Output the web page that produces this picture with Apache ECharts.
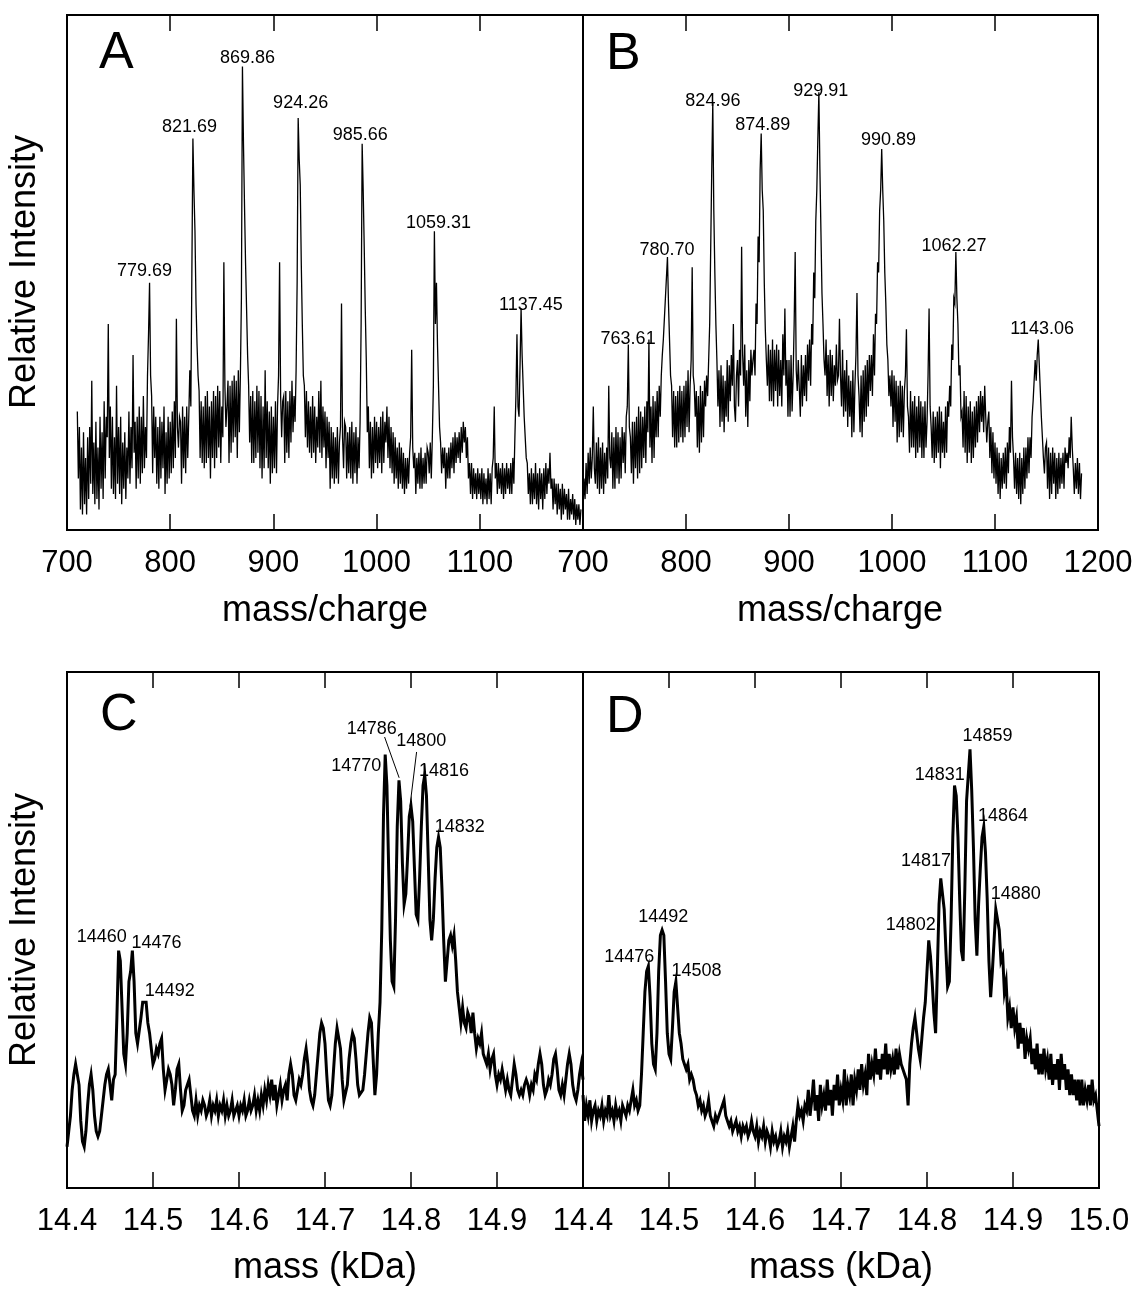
<!DOCTYPE html>
<html><head><meta charset="utf-8">
<script src="https://cdn.jsdelivr.net/npm/echarts@6/dist/echarts.min.js"></script>
<style>html,body{margin:0;padding:0;background:#fff}#c{width:1138px;height:1289px}</style>
</head><body><div id="c"></div>
<script>
// ---------- DATA ----------
// Panel A: m/z sampled every 1 unit starting at 710 (rows of 10)
const mzStartA = 710, mzStepA = 1;
const intensityA = [
 23,10,20,4,16,3,19,5,14,3,
 18,6,20,9,29,7,17,5,21,6,
 16,4,22,8,19,6,25,10,22,18,
 40,14,24,8,22,7,18,6,28,9,
 20,7,22,5,17,8,19,6,16,10,
 23,9,20,12,34,15,21,8,22,10,
 24,9,22,11,26,12,20,14,30,38,
 48,30,26,11,24,14,22,9,20,8,
 22,10,21,12,24,7,19,9,22,10,
 21,11,23,12,25,14,41,20,16,22,
 21,9,24,12,22,11,24,14,22,31,
 24,50,76,66,58,44,36,30,27,14,
 25,13,24,12,26,13,27,14,24,10,
 25,14,27,12,26,14,28,16,27,13,
 24,18,52,28,20,24,29,13,28,15,
 29,17,30,18,29,14,31,19,30,45,
 90,75,63,52,43,34,28,17,26,13,
 27,13,25,14,28,15,27,12,26,10,
 24,12,31,14,25,12,23,9,24,11,
 22,12,25,11,24,30,52,26,18,25,
 26,13,27,15,25,14,27,17,29,19,
 26,21,31,48,80,72,67,52,40,30,
 28,18,27,16,25,15,24,14,26,15,
 24,13,22,16,27,15,29,14,24,16,
 23,12,22,14,21,8,20,10,19,9,
 18,10,20,9,17,20,44,18,12,21,
 20,10,19,11,20,10,21,9,19,11,
 20,9,18,12,21,40,75,66,55,43,
 33,19,24,12,21,10,20,11,22,13,
 21,12,20,13,22,11,23,13,21,17,
 24,14,22,12,20,11,19,9,18,10,
 16,8,17,9,16,8,15,7,14,8,
 14,9,15,18,35,16,12,15,7,14,
 9,15,8,16,8,14,9,15,9,16,
 15,11,17,10,18,28,58,40,48,36,
 28,20,17,11,16,12,16,8,15,10,
 16,10,17,12,18,11,19,13,18,14,
 19,13,20,15,21,17,20,14,18,10,
 13,7,13,6,12,7,11,6,12,7,
 11,6,12,5,11,6,10,5,12,6,
 11,5,12,14,24,10,13,7,13,8,
 12,7,13,6,12,7,13,8,12,7,
 13,7,14,9,18,26,38,24,22,32,
 43,34,28,22,22,14,13,7,11,5,
 12,5,11,6,13,5,11,4,12,6,
 11,4,12,6,13,7,12,9,15,8,
 10,4,10,5,9,3,9,4,8,2,
 9,3,8,4,7,2,8,2,6,3,
 7,2,6,1,5,2,5,1,4
];
// Panel B: m/z sampled every 1 unit starting at 700 (rows of 10)
const mzStartB = 700, mzStepB = 1;
const intensityB = [
 4,10,6,13,7,15,9,16,10,14,
 24,12,9,17,8,18,7,16,8,17,
 7,15,9,16,10,28,14,12,19,8,
 18,8,20,10,19,9,18,10,20,13,
 19,11,22,24,36,20,18,11,21,9,
 21,12,22,10,24,11,23,12,22,14,
 24,13,25,19,37,16,24,13,26,14,
 25,18,27,18,28,22,30,34,37,41,
 45,49,53,44,37,30,28,18,27,16,
 26,16,27,17,28,18,27,17,28,18,
 29,20,31,19,28,33,51,30,28,22,
 27,16,26,15,28,17,27,18,29,24,
 30,26,33,40,55,70,83,62,50,40,
 33,24,31,20,32,21,30,19,29,22,
 33,21,32,25,34,28,40,24,21,30,
 33,24,35,30,55,34,28,36,22,31,
 20,33,25,35,30,33,35,30,44,40,
 57,52,70,77,66,62,48,39,33,28,
 36,25,35,25,37,24,35,27,36,24,
 35,26,33,24,38,30,43,28,33,22,
 33,22,34,23,30,40,54,31,27,33,
 33,22,34,24,32,26,34,25,36,29,
 37,28,40,36,50,45,60,66,76,85,
 70,58,46,40,33,30,37,26,34,24,
 35,26,34,25,32,28,36,29,30,41,
 30,24,35,22,31,23,33,20,30,22,
 29,18,31,19,28,34,46,30,26,19,
 30,18,31,21,32,22,33,24,34,27,
 34,26,38,30,42,40,52,50,62,66,
 74,66,60,50,44,36,33,26,30,24,
 31,20,30,21,29,17,28,18,29,19,
 28,18,27,30,39,24,22,15,27,16,
 25,16,26,14,24,15,26,16,25,14,
 24,14,25,16,21,30,43,24,20,14,
 23,13,22,14,23,15,24,12,23,15,
 21,14,24,15,25,22,28,24,36,33,
 45,44,54,45,40,30,32,22,23,16,
 27,15,26,13,24,15,25,13,23,14,
 24,16,25,17,26,19,27,21,26,19,
 28,22,17,21,23,14,20,11,19,10,
 17,9,16,7,15,6,14,8,15,9,
 16,8,17,11,20,15,29,18,14,8,
 15,7,14,6,15,5,14,7,16,8,
 16,10,18,11,18,14,22,25,29,33,
 29,34,37,32,27,22,18,14,11,16,
 17,8,16,6,15,7,16,9,15,6,
 14,7,15,8,14,9,15,8,16,13,
 15,12,18,14,22,16,12,7,13,8,
 14,7,13,6,11
];
// Panel C: mass (Da) sampled every 2 Da starting at 14400
const massStartC = 14400, massStepC = 2;
const intensityC = [
 8,11,14,19,22,24,24,20,13,9,
 8,11,16,20,22,19,14,11,10,11,
 14,17,20,22,23,20,17,21,22,33,
 46,44,35,26,24,30,40,42,46,40,
 30,28,28,33,36,36,36,32,30,27,
 24,25,27,26,28,29,23,19,21,23,
 22,20,16,19,23,24,19,15,16,19,
 20,21,18,15,14,17,14,16,15,17,
 16,14,15,17,14,16,15,17,14,16,
 15,17,14,16,14,15,17,14,15,16,
 14,16,15,17,14,15,17,15,16,18,
 15,17,15,18,16,19,17,20,18,21,
 17,20,16,18,20,17,19,20,17,22,
 24,22,18,17,19,21,20,22,25,27,
 24,19,17,16,18,22,26,30,32,31,
 28,22,17,16,18,23,28,31,31,27,
 21,17,17,20,25,28,30,29,25,20,
 18,18,19,22,26,30,33,32,25,18,
 22,30,36,50,72,84,78,62,48,40,
 39,52,70,79,75,63,55,57,64,72,
 74,71,62,53,52,60,70,78,80,76,
 64,52,48,52,60,66,68,66,58,48,
 40,44,48,49,47,49,44,38,35,32,
 35,32,31,34,33,30,34,30,27,29,
 28,30,26,25,24,26,23,25,26,22,
 20,22,21,23,21,19,21,19,18,21,
 24,22,19,18,19,18,20,21,20,18,
 20,19,22,21,24,26,24,20,18,19,
 21,20,22,25,26,23,19,18,20,18,
 21,24,26,24,20,18,17,19,22,24,
 21
];
// Panel D: mass (Da) sampled every 2 Da starting at 14400
const massStartD = 14400, massStepD = 2;
const intensityD = [
 18,13,16,14,17,13,15,16,13,15,
 14,16,13,15,14,18,14,15,13,16,
 14,15,13,16,15,14,16,15,17,19,
 16,17,15,16,22,30,38,42,43,37,
 28,24,23,30,42,49,50,49,40,30,
 26,25,31,38,40,35,30,28,25,24,
 23,24,21,22,21,19,18,16,17,15,
 16,14,15,17,14,13,12,14,13,14,
 15,16,17,14,13,12,13,11,12,13,
 11,12,10,12,11,12,10,11,13,11,
 10,12,9,11,10,12,9,11,10,8,
 11,9,10,8,9,11,8,10,9,11,
 8,10,12,9,13,16,14,15,13,16,
 15,19,14,17,21,15,18,13,20,16,
 18,15,21,16,19,14,20,17,22,16,
 19,17,23,16,20,18,22,16,21,19,
 23,19,24,20,22,18,26,21,24,22,
 27,22,25,21,26,23,28,22,26,23,
 25,22,27,23,26,24,23,22,21,16,
 24,28,31,33,30,27,25,29,33,36,
 42,48,45,40,34,30,42,55,60,60,
 54,46,39,40,52,68,78,76,68,56,
 46,44,58,75,80,85,77,66,52,45,
 55,62,68,70,65,56,44,37,42,48,
 54,54,50,44,45,38,40,33,35,31,
 35,31,33,27,32,28,31,25,29,27,
 29,24,27,23,28,22,26,22,27,23,
 25,21,26,20,24,21,25,19,26,21,
 24,19,23,18,22,18,21,17,21,16,
 21,16,19,17,20,16,21,17,18,15,
 12
];
// axis ranges / ticks
const mzMin = 700, mzMax = 1200, mzTick = 100;
const kdaMin = 14.4, kdaMax = 15.0, kdaTick = 0.1;
// peak annotations: [text, x, y]
const peaksA = [['869.86',875,91.6],['821.69',818.8,78.3],['924.26',926.4,82.9],['985.66',984.2,76.7],['1059.31',1059.9,59.6],['1137.45',1149.5,43.7],['779.69',775.2,50.2]];
const peaksB = [['824.96',826.1,83.2],['874.89',874.6,78.7],['929.91',930.8,85.3],['990.89',996.7,75.8],['1062.27',1060.2,55.2],['1143.06',1145.8,39.1],['780.70',781.6,54.4],['763.61',743.8,37.0]];
const peaksC = [['14786',14.7544,89.0],['14800',14.812,86.6],['14770',14.7364,81.8],['14816',14.8383,80.8],['14832',14.8567,70.0],['14460',14.4404,48.7],['14476',14.504,47.4],['14492',14.5196,38.2]];
const peaksD = [['14859',14.8703,87.5],['14831',14.8149,80.1],['14864',14.8883,72.0],['14817',14.7988,63.3],['14880',14.9032,56.9],['14802',14.7811,50.9],['14492',14.4932,52.5],['14476',14.4538,44.8],['14508',14.5321,42.1]];
// leader lines in panel C: [[x1,y1],[x2,y2]]
const leadersC = [[[14.7693,87.4],[14.7862,79.5]],[[14.8065,84.5],[14.7987,73.9]]];
const panelLetters = ['A','B','C','D'];
const xTitleTop = 'mass/charge', xTitleBottom = 'mass (kDa)', yTitle = 'Relative Intensity';

// ---------- CHART ----------
const FONT = '"Liberation Sans", Arial, Helvetica, sans-serif';
const chart = echarts.init(document.getElementById('c'), null, {renderer:'canvas'});
const toPairs = (start, step, vals, div) => vals.map((v,i)=>[(start+i*step)/div, v]);

const grids = [
  {left:67, top:15, width:516, height:515},
  {left:583, top:15, width:515, height:515},
  {left:67, top:672, width:516, height:516},
  {left:583, top:672, width:516, height:516}
].map(g=>Object.assign({show:true, borderColor:'#000', borderWidth:2, backgroundColor:'transparent', containLabel:false, outerBoundsMode:'none'}, g));

const tick = {show:true, inside:true, length:16, lineStyle:{color:'#000', width:1.5}};
const xAxes = [];
[0,1,2,3].forEach(g=>{
  const top = g<2;
  const base = {gridIndex:g, type:'value', min: top?mzMin:kdaMin, max: top?mzMax:kdaMax, interval: top?mzTick:kdaTick,
    axisLine:{show:false}, splitLine:{show:false}, axisTick:tick};
  xAxes.push(Object.assign({}, base, {position:'bottom',
    axisLabel:{show:true, fontSize:31, color:'#000', fontFamily:FONT, margin:18,
      showMaxLabel: (g===1||g===3), showMinLabel:true,
      formatter: top ? (v=>String(Math.round(v))) : (v=>v.toFixed(1))}}));
  xAxes.push(Object.assign({}, base, {position:'top', axisLabel:{show:false}}));
});
const yAxes = [0,1,2,3].map(g=>({gridIndex:g, type:'value', min:0, max:100, show:false}));

const lineSeries = (g, data, w) => ({type:'line', xAxisIndex:2*g, yAxisIndex:g, data, showSymbol:false, symbol:'none',
  lineStyle:{color:'#000', width:w, join:'miter'}, clip:true, silent:true, z:2, sampling:null});
const labelSeries = (g, peaks) => ({type:'scatter', xAxisIndex:2*g, yAxisIndex:g, symbolSize:0.01,
  itemStyle:{color:'#000'}, silent:true, z:5,
  label:{show:true, position:'inside', formatter:'{b}', fontSize:18, color:'#000', opacity:1,
    textBorderWidth:0, textShadowBlur:0, fontFamily:FONT},
  data: peaks.map(p=>({name:p[0], value:[p[1],p[2]]}))});

const series = [
  lineSeries(0, toPairs(mzStartA, mzStepA, intensityA, 1), 1.3),
  lineSeries(1, toPairs(mzStartB, mzStepB, intensityB, 1), 1.3),
  lineSeries(2, toPairs(massStartC, massStepC, intensityC, 1000), 3),
  lineSeries(3, toPairs(massStartD, massStepD, intensityD, 1000), 3),
  labelSeries(0, peaksA), labelSeries(1, peaksB), labelSeries(2, peaksC), labelSeries(3, peaksD)
];
leadersC.forEach(l=>series.push(lineSeries(2, l, 1)));

const txt = (text, x, y, size, extra) => Object.assign({type:'text', x, y, silent:true,
  style:{text, font: size+'px '+FONT, fill:'#000', textAlign:'center', textVerticalAlign:'middle'}}, extra||{});
const letter = (t, x, y) => ({type:'text', x, y, silent:true,
  style:{text:t, font:'52px '+FONT, fill:'#000', textAlign:'left', textVerticalAlign:'middle'}});
const graphics = [
  letter(panelLetters[0], 99, 54),
  letter(panelLetters[1], 606, 55),
  letter(panelLetters[2], 100, 716),
  letter(panelLetters[3], 606, 718),
  txt(yTitle, 25, 272, 36, {rotation:Math.PI/2}),
  txt(yTitle, 25, 930, 36, {rotation:Math.PI/2}),
  txt(xTitleTop, 325, 611, 36),
  txt(xTitleTop, 840, 611, 36),
  txt(xTitleBottom, 325, 1268, 36),
  txt(xTitleBottom, 841, 1268, 36)
];

chart.setOption({animation:false, backgroundColor:'#fff', grid:grids, xAxis:xAxes, yAxis:yAxes, series, graphic:graphics});
</script></body></html>
